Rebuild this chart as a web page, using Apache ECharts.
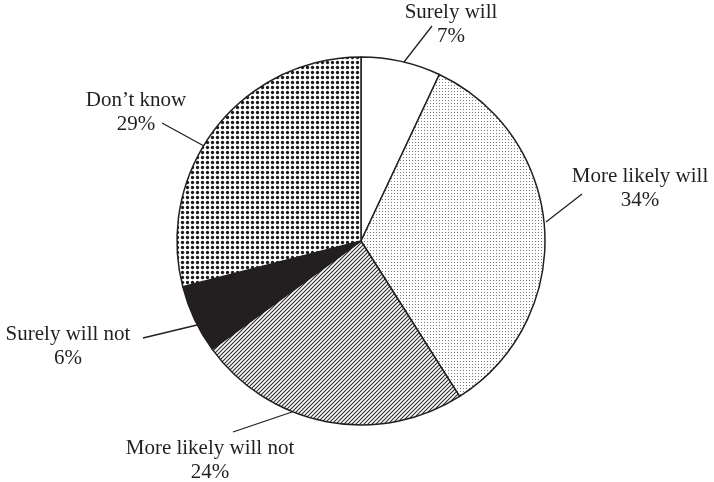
<!DOCTYPE html>
<html>
<head>
<meta charset="utf-8">
<script src="https://cdn.jsdelivr.net/npm/echarts@6/dist/echarts.min.js"></script>
<style>
  html, body { margin: 0; padding: 0; background: #fff; }
  #main { width: 714px; height: 482px; }
</style>
</head>
<body>
<div id="main"></div>
<script>
var categories = ['Surely will', 'More likely will', 'More likely will not', 'Surely will not', 'Don\u2019t know'];
var shares = [7, 34, 24, 6, 29];

// label centre and leader line per slice (layout only)
var labelPos = [[451, 24], [640, 188], [210, 460], [68, 346], [136, 112]];
var linePts = [
    [[404, 62], [432, 26]],
    [[546, 222], [582, 194]],
    [[292, 412], [233, 432]],
    [[197, 325], [143, 338]],
    [[204, 146], [162, 123]]
];

function makeTile(size, draw) {
    var c = document.createElement('canvas');
    c.width = size; c.height = size;
    var ctx = c.getContext('2d');
    ctx.fillStyle = '#fff';
    ctx.fillRect(0, 0, size, size);
    draw(ctx);
    return c;
}

var lightDots = makeTile(3, function (ctx) {
    ctx.fillStyle = '#7a7a7a';
    ctx.fillRect(1, 1, 1, 1);
});
var hatch = makeTile(4, function (ctx) {
    ctx.strokeStyle = '#2e2e2e';
    ctx.lineWidth = 1.15;
    ctx.beginPath();
    ctx.moveTo(-1, 5); ctx.lineTo(5, -1);
    ctx.moveTo(-1, 1); ctx.lineTo(1, -1);
    ctx.moveTo(3, 5); ctx.lineTo(5, 3);
    ctx.stroke();
});
var darkDots = makeTile(5, function (ctx) {
    ctx.fillStyle = '#1a1a1a';
    ctx.beginPath();
    ctx.arc(2.5, 2.5, 1.65, 0, Math.PI * 2);
    ctx.fill();
});

var fills = [
    '#ffffff',
    { image: lightDots, repeat: 'repeat' },
    { image: hatch, repeat: 'repeat' },
    '#231f20',
    { image: darkDots, repeat: 'repeat' }
];

var myChart = echarts.init(document.getElementById('main'));
var option = {
    backgroundColor: '#fff',
    animation: false,
    series: [{
        type: 'pie',
        center: [361, 241],
        radius: 184,
        startAngle: 90,
        clockwise: true,
        data: categories.map(function (name, i) {
            return { name: name, value: shares[i], itemStyle: { color: fills[i] } };
        }),
        itemStyle: {
            borderColor: '#231f20',
            borderWidth: 1.5
        },
        label: {
            show: true,
            position: 'outside',
            formatter: '{b}\n{c}%',
            fontFamily: '"Liberation Serif", "DejaVu Serif", serif',
            fontSize: 21,
            lineHeight: 24,
            color: '#231f20',
            align: 'center',
            overflow: 'none',
            width: 220
        },
        labelLine: {
            show: true,
            lineStyle: { color: '#231f20', width: 1.3 }
        },
        labelLayout: function (params) {
            var i = params.dataIndex;
            return {
                x: labelPos[i][0],
                y: labelPos[i][1],
                align: 'center',
                verticalAlign: 'middle',
                labelLinePoints: [linePts[i][0], linePts[i][0], linePts[i][1]]
            };
        },
        emphasis: { disabled: true }
    }]
};
myChart.setOption(option);
</script>
</body>
</html>
